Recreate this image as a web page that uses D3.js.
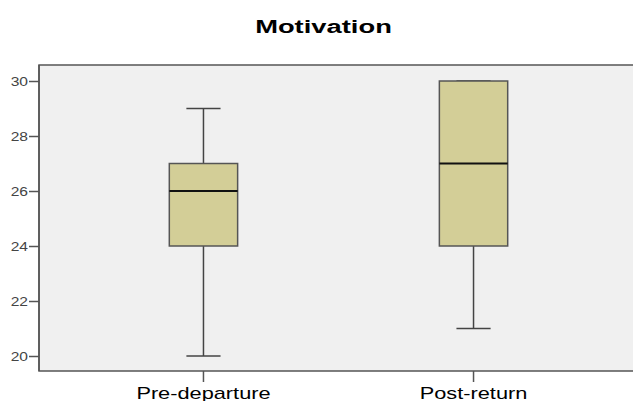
<!DOCTYPE html>
<html lang="en">
<head>
<meta charset="UTF-8">
<title>Motivation</title>
<script src="https://d3js.org/d3.v7.min.js"></script>
<style>
  body { margin: 0; background: #fff; }
  text { font-family: "Liberation Sans", Arial, sans-serif; }
</style>
</head>
<body>
<div id="chart"></div>
<script>
    // data
    const categories = ["Pre-departure", "Post-return"];
    const mins = [20, 21];
    const q1s = [24, 24];
    const medians = [26, 27];
    const q3s = [27, 30];
    const maxs = [29, 30];
    const yTicks = [20, 22, 24, 26, 28, 30];
    const title = "Motivation";

    const W = 633, H = 401;
    const plotLeft = 39, plotTop = 65, plotBottom = 371, plotRight = 638;

    const svg = d3.select("#chart").append("svg")
        .attr("width", W)
        .attr("height", H);

    const yScale = d3.scaleLinear().domain([20, 30]).range([356, 81]);
    const xScale = d3.scaleBand().domain(categories).range([plotLeft, plotRight])
        .paddingInner(0).paddingOuter(0.109);

    // plot background
    svg.append("rect")
        .attr("x", plotLeft).attr("y", plotTop)
        .attr("width", plotRight - plotLeft).attr("height", plotBottom - plotTop)
        .attr("fill", "#f0f0f0")
        .attr("stroke", "#555").attr("stroke-width", 1.5);

    // title (source is horizontally stretched)
    svg.append("text")
        .attr("transform", "translate(323.5,33) scale(1.44,1)")
        .attr("text-anchor", "middle")
        .attr("font-size", 19).attr("font-weight", "bold")
        .attr("fill", "#000")
        .text(title);

    // y axis
    const yAxis = svg.append("g")
        .attr("transform", "translate(" + plotLeft + ",0)")
        .call(d3.axisLeft(yScale).tickValues(yTicks).tickSize(10).tickPadding(1));
    yAxis.select(".domain").attr("stroke", "#555").attr("stroke-width", 1.5)
        .attr("d", "M0," + plotTop + "V" + plotBottom);
    yAxis.selectAll(".tick line").attr("stroke", "#555").attr("stroke-width", 1.5);
    yAxis.selectAll(".tick text")
        .attr("font-size", 13).attr("fill", "#444")
        .attr("font-family", "Liberation Sans, Arial, sans-serif")
        .attr("dy", "0.36em")
        .attr("transform", function () {
            const x = +d3.select(this).attr("x");
            return "translate(" + (-x * 0.2) + ",0) scale(1.2,1)";
        });

    // x axis
    const xAxis = svg.append("g")
        .attr("transform", "translate(0," + plotBottom + ")")
        .call(d3.axisBottom(xScale).tickSize(11).tickPadding(0));
    xAxis.select(".domain").remove();
    xAxis.selectAll(".tick line").attr("stroke", "#555").attr("stroke-width", 1.5);
    xAxis.selectAll(".tick text").remove();
    categories.forEach(c => {
        svg.append("text")
            .attr("transform", "translate(" + (xScale(c) + xScale.bandwidth() / 2) + ",399) scale(1.28,1)")
            .attr("text-anchor", "middle")
            .attr("font-size", 17)
            .attr("fill", "#000")
            .text(c);
    });

    // boxes
    const boxW = xScale.bandwidth() * 0.253;
    const capW = boxW / 2;
    categories.forEach((c, i) => {
        const cx = xScale(c) + xScale.bandwidth() / 2;
        const g = svg.append("g");
        // whiskers
        g.append("line")
            .attr("x1", cx).attr("x2", cx)
            .attr("y1", yScale(maxs[i])).attr("y2", yScale(q3s[i]))
            .attr("stroke", "#444").attr("stroke-width", 1.5);
        g.append("line")
            .attr("x1", cx).attr("x2", cx)
            .attr("y1", yScale(q1s[i])).attr("y2", yScale(mins[i]))
            .attr("stroke", "#444").attr("stroke-width", 1.5);
        g.append("line")
            .attr("x1", cx - capW / 2).attr("x2", cx + capW / 2)
            .attr("y1", yScale(maxs[i])).attr("y2", yScale(maxs[i]))
            .attr("stroke", "#444").attr("stroke-width", 1.5);
        g.append("line")
            .attr("x1", cx - capW / 2).attr("x2", cx + capW / 2)
            .attr("y1", yScale(mins[i])).attr("y2", yScale(mins[i]))
            .attr("stroke", "#444").attr("stroke-width", 1.5);
        // box
        g.append("rect")
            .attr("x", cx - boxW / 2).attr("y", yScale(q3s[i]))
            .attr("width", boxW).attr("height", yScale(q1s[i]) - yScale(q3s[i]))
            .attr("fill", "#d3ce97")
            .attr("stroke", "#555").attr("stroke-width", 1.5);
        // median
        g.append("line")
            .attr("x1", cx - boxW / 2).attr("x2", cx + boxW / 2)
            .attr("y1", yScale(medians[i])).attr("y2", yScale(medians[i]))
            .attr("stroke", "#111").attr("stroke-width", 2);
    });
</script>
</body>
</html>
